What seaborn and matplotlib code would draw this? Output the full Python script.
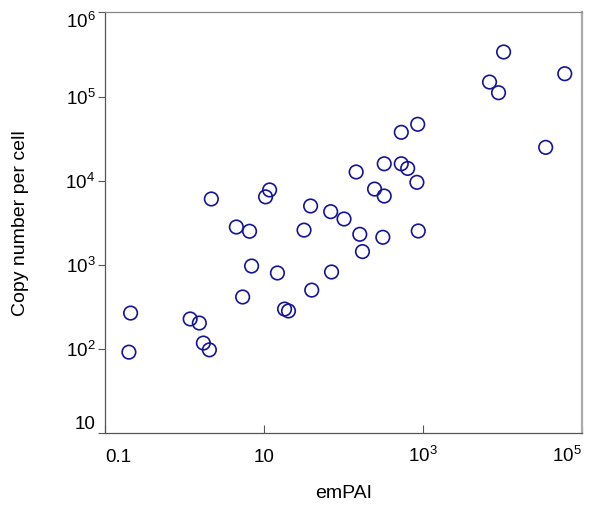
import matplotlib
matplotlib.use("Agg")
import matplotlib.pyplot as plt
import matplotlib.ticker as mticker
import seaborn as sns
import numpy as np

empai = [0.20, 0.21, 1.18, 1.54, 1.73, 2.06,
         2.18, 4.5, 6.6, 5.4, 7.0,
         10.5, 11.8, 14.8, 18.2, 20.4,
         40.0, 71.0,
         10400, 6920, 8980, 61200, 35200,
         863, 536, 327, 536, 645, 843,
         145, 247, 327, 38.7, 69.3, 102,
         32.0, 161, 314, 877, 174]
copies = [92, 268, 228, 204, 118, 98,
          6070, 2820, 2510, 416, 970,
          6430, 7770, 802, 299, 284,
          502, 824,
          338000, 148600, 111000, 186600, 24900,
          46800, 37600, 15900, 15900, 14000, 9570,
          12700, 7960, 6580, 5010, 4290, 3510,
          2590, 2310, 2130, 2530, 1440]

x_ticks = [0.1, 10, 1e3, 1e5]
x_labels = ["0.1", "10", r"$10^{3}$", r"$10^{5}$"]
y_ticks = [10, 1e2, 1e3, 1e4, 1e5, 1e6]
y_labels = ["10", r"$10^{2}$", r"$10^{3}$", r"$10^{4}$", r"$10^{5}$", r"$10^{6}$"]

sns.set_style("white")
plt.rcParams["font.family"] = ["Liberation Sans", "DejaVu Sans"]
plt.rcParams["mathtext.fontset"] = "custom"
plt.rcParams["mathtext.rm"] = "Liberation Sans"
plt.rcParams["mathtext.it"] = "Liberation Sans"
plt.rcParams["text.color"] = "black"
plt.rcParams["axes.labelcolor"] = "black"
plt.rcParams["xtick.color"] = "black"
plt.rcParams["ytick.color"] = "black"

fig = plt.figure(figsize=(6.0, 5.14), dpi=100)
ax = fig.add_axes([0.175, 0.157, 0.7945, 0.819])

sns.scatterplot(x=empai, y=copies, ax=ax, s=95, marker="o",
                facecolor="none", edgecolor="#14149a", linewidth=1.2)

ax.set_xscale("log")
ax.set_yscale("log")
ax.set_xlim(0.1, 1e5)
ax.set_ylim(10, 1e6)
ax.set_xticks(x_ticks)
ax.set_xticklabels(x_labels, va="baseline")
ax.set_yticks(y_ticks)
ax.set_yticklabels(y_labels)
ax.xaxis.set_minor_locator(mticker.NullLocator())
ax.yaxis.set_minor_locator(mticker.NullLocator())

ax.tick_params(axis="x", direction="in", length=6, width=0.8, color="#555555",
               labelcolor="black", labelsize=13.5, pad=20.5, bottom=True)
ax.tick_params(axis="y", direction="out", length=5, width=0.8, color="#555555",
               labelcolor="black", labelsize=13.5, pad=2, left=True)

xl = ax.get_xticklabels()
xl[0].set_horizontalalignment("left")
xl[-1].set_horizontalalignment("right")
yl = ax.get_yticklabels()
yl[0].set_verticalalignment("bottom")
yl[-1].set_verticalalignment("top")

for side in ["left", "bottom"]:
    ax.spines[side].set_color("#555555")
    ax.spines[side].set_linewidth(0.9)
ax.spines["top"].set_color("#888888")
ax.spines["top"].set_linewidth(0.9)
ax.spines["right"].set_color("#aaaaaa")
ax.spines["right"].set_linewidth(1.6)

ax.set_xlabel("emPAI", fontsize=14, labelpad=14, color="black")
ax.set_ylabel("Copy number per cell", fontsize=14, labelpad=26, color="black")

fig.savefig("out.png", dpi=100)
